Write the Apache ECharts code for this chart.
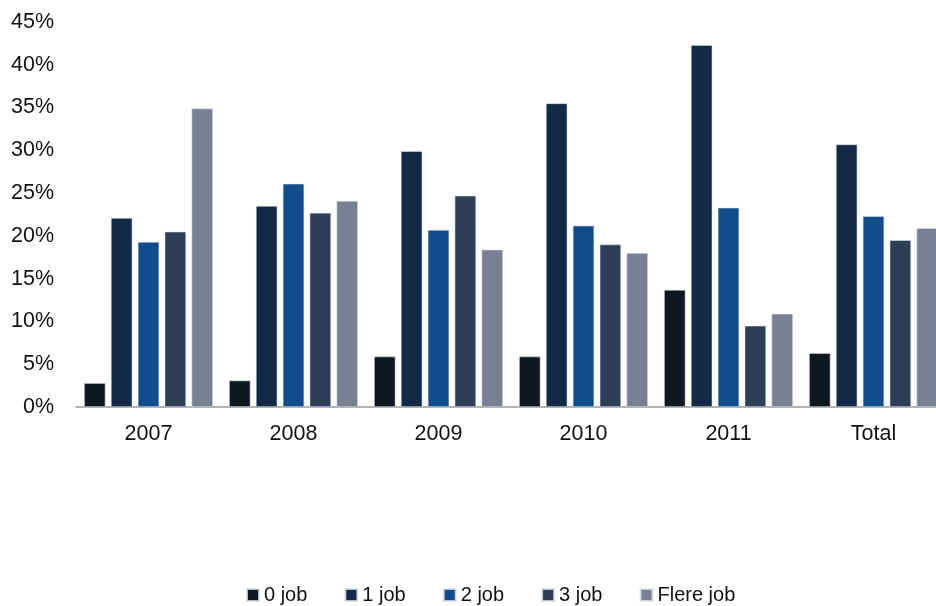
<!DOCTYPE html>
<html>
<head>
<meta charset="utf-8">
<script src="https://cdn.jsdelivr.net/npm/echarts@6/dist/echarts.min.js"></script>
<style>
  html, body { margin: 0; padding: 0; background: #fff; }
  #chart { width: 936px; height: 606px; }
</style>
</head>
<body>
<div id="chart"></div>
<script>
const categories = ['2007', '2008', '2009', '2010', '2011', 'Total']
const seriesNames = ['0 job', '1 job', '2 job', '3 job', 'Flere job']
const job0 = [2.8, 3.1, 5.9, 5.9, 13.7, 6.3]
const job1 = [22.1, 23.5, 29.9, 35.5, 42.3, 30.7]
const job2 = [19.3, 26.1, 20.7, 21.2, 23.3, 22.3]
const job3 = [20.5, 22.7, 24.7, 19.0, 9.5, 19.5]
const jobMore = [34.9, 24.1, 18.4, 18.0, 10.9, 20.9]
const colors = ['#0e1821', '#122a47', '#124c8a', '#2e3e57', '#7a8093']

const values = [job0, job1, job2, job3, jobMore]
const font = '"Liberation Sans", Arial, sans-serif'

const chart = echarts.init(document.getElementById('chart'))
chart.setOption({
  animation: false,
  textStyle: { fontFamily: font },
  grid: { left: 76, width: 870, top: 22, height: 385, containLabel: false, outerBoundsMode: 'none' },
  legend: {
    left: 241,
    top: 580,
    icon: 'rect',
    itemWidth: 12,
    itemHeight: 12,
    itemGap: 37,
    textStyle: { fontSize: 20, color: '#111', fontFamily: font },
    data: seriesNames,
  },
  xAxis: {
    type: 'category',
    data: categories,
    axisLine: { lineStyle: { color: '#9a9a9a', width: 1.5 } },
    axisTick: { show: false },
    axisLabel: { fontSize: 21.5, color: '#111', margin: 16 },
  },
  yAxis: {
    type: 'value',
    min: 0,
    max: 45,
    interval: 5,
    axisLine: { show: false },
    axisTick: { show: false },
    splitLine: { show: false },
    axisLabel: { fontSize: 21.5, color: '#111', margin: 22, formatter: '{value}%' },
  },
  series: seriesNames.map((name, i) => ({
    name,
    type: 'bar',
    data: values[i],
    barWidth: 21.5,
    barGap: '25%',
    itemStyle: { color: colors[i], borderColor: 'rgba(220,226,235,0.8)', borderWidth: 0.7 },
  })),
})
</script>
</body>
</html>
